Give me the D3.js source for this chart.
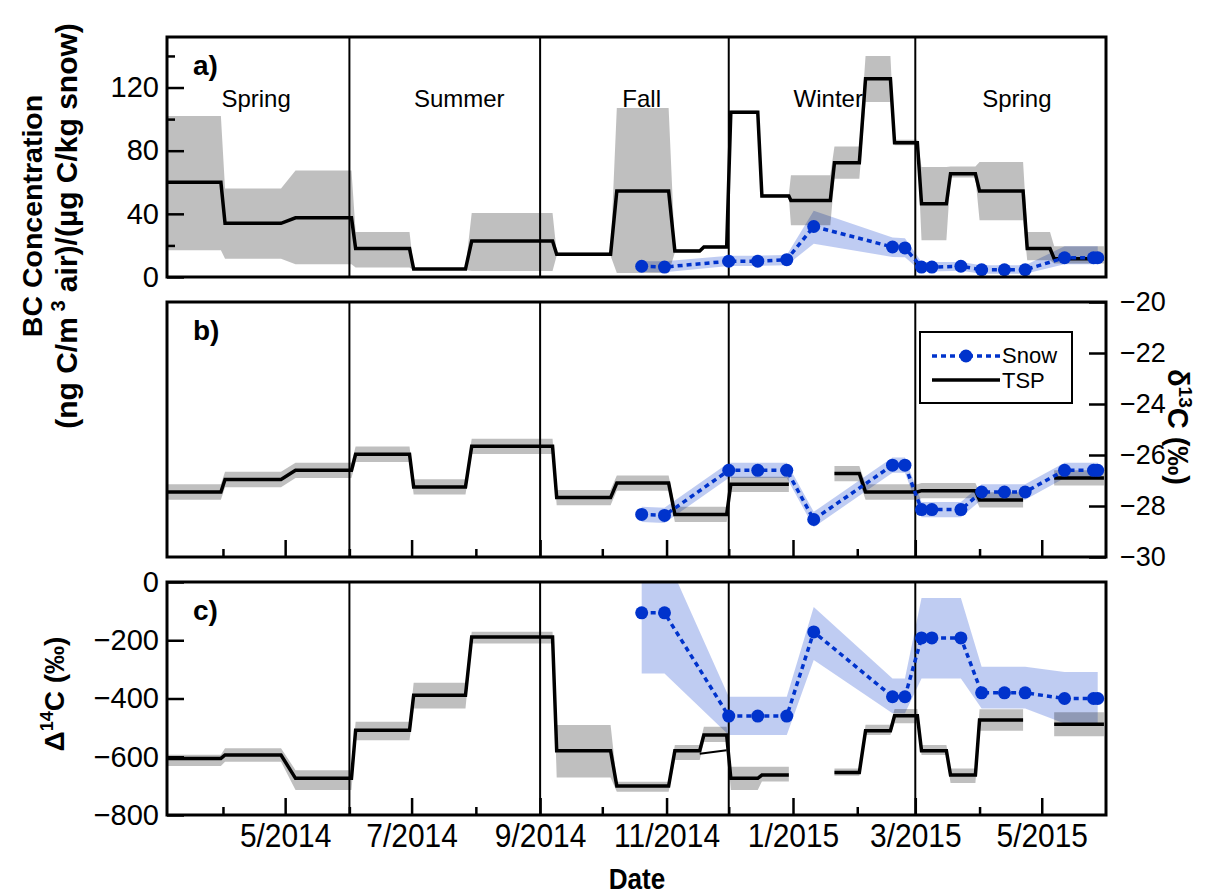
<!DOCTYPE html>
<html>
<head>
<meta charset="utf-8">
<script src="https://cdn.jsdelivr.net/npm/d3@7"></script>
<style>
  body { margin: 0; background: #fff; }
  svg text { font-family: "Liberation Sans", Arial, sans-serif; fill: #000; }
</style>
</head>
<body>
<div id="chart"></div>
<script>
// x range and season markers
const xDomain = ["2014-03-05", "2015-06-01"];
const seasonBounds = ["2014-06-01", "2014-09-01", "2014-12-01", "2015-03-01"];
const seasonNames = ["Spring", "Summer", "Fall", "Winter", "Spring"];
const seasonLabelDates = ["2014-04-17", "2014-07-24", "2014-10-20", "2015-01-18", "2015-04-19"];
const majorTicks = ["2014-05-01", "2014-07-01", "2014-09-01", "2014-11-01", "2015-01-01", "2015-03-01", "2015-05-01"];
const minorTicks = ["2014-04-01", "2014-06-01", "2014-08-01", "2014-10-01", "2014-12-01", "2015-02-01", "2015-04-01"];

// TSP filter sampling intervals
const tspStart = ["2014-03-05", "2014-04-02", "2014-05-06", "2014-06-04", "2014-07-02", "2014-07-30", "2014-09-09",
  "2014-10-08", "2014-11-05", "2014-11-19", "2014-12-02", "2014-12-17", "2014-12-31", "2015-01-21", "2015-02-05",
  "2015-02-19", "2015-03-04", "2015-03-18", "2015-04-01", "2015-04-24", "2015-05-07"];
const tspEnd = ["2014-03-31", "2014-04-29", "2014-06-02", "2014-06-30", "2014-07-27", "2014-09-07", "2014-10-05",
  "2014-11-02", "2014-11-17", "2014-11-30", "2014-12-15", "2014-12-30", "2015-01-19", "2015-02-02", "2015-02-17",
  "2015-03-02", "2015-03-16", "2015-03-30", "2015-04-22", "2015-05-05", "2015-05-31"];

// a) BC concentration
const tspBC = [60, 34, 37.5, 18, 5, 22.8, 14.4, 54.4, 16.5, 19, 104.4, 51.3, 48.5, 72.4, 125.6, 85, 46.4, 65.4, 54.4, 18, 11.6];
const tspBCLo = [17, 11.6, 8, 6, 4.5, 3.8, 13.5, 2.5, 15.5, 18, 103.5, 50.5, 32.7, 62.3, 110.8, 83.5, 23.2, 63, 35.9, 10.6, 8.5];
const tspBCHi = [102, 56, 67.5, 28.5, 5.5, 40.5, 15.5, 107, 17.5, 20, 105.5, 52.5, 64.4, 82.7, 140, 87, 69.6, 70, 72.8, 28.5, 19.4];

// b) d13C
const tspD13 = [-27.45, -26.96, -26.6, -25.97, -27.25, -25.66, -27.67, -27.1, -28.33, -28.33, -27.15, -27.15, null,
  -26.73, -27.45, -27.45, -27.4, -27.4, -27.76, null, -26.9];
const tspD13Err = [0.3, 0.3, 0.3, 0.3, 0.3, 0.3, 0.3, 0.3, 0.3, 0.3, 0.3, 0.3, null, 0.3, 0.3, 0.3, 0.3, 0.3, 0.3, null, 0.3];

// c) D14C
const tspD14 = [-605.7, -594, -674, -508.6, -388.5, -188.6, -579.5, -700.5, -579.5, -525.7, -674, -663, null,
  -653.7, -511, -459.5, -579.5, -663, -474, null, -488];
const tspD14Lo = [-632, -617, -714, -543, -434, -211, -671, -720, -611, -549, -714, -685, null, -665, -525, -485, -594, -690, -511, null, -530];
const tspD14Hi = [-593, -571, -646, -480, -346, -171, -491, -686, -560, -497, -634, -634, null, -640, -490, -436, -560, -640, -437, null, -447];
const tspAltDates = ["2014-11-17", "2014-11-30"];
const tspAltD14 = [-590, -578];

// snow samples
const snowDates = ["2014-10-20", "2014-10-31", "2014-12-01", "2014-12-15", "2014-12-29", "2015-01-11", "2015-02-18",
  "2015-02-24", "2015-03-04", "2015-03-09", "2015-03-23", "2015-04-02", "2015-04-13", "2015-04-23", "2015-05-12",
  "2015-05-26", "2015-05-28"];
const snowBC = [6.8, 6.3, 10, 10, 11, 32, 19, 18.4, 6.3, 6.3, 6.8, 4.6, 4.6, 4.6, 12.2, 12.2, 12.2];
const snowBCLo = [3.2, 3, 7, 7, 7.5, 21, 12.7, 12.5, 3.5, 3.5, 4, 2, 2, 2, 8, 8, 8];
const snowBCHi = [10, 10, 13.5, 13.5, 14, 42, 25, 24.5, 9.5, 9.5, 9.5, 7.5, 7.5, 7.5, 19.4, 19.4, 19.4];
const snowD13 = [-28.33, -28.37, -26.6, -26.6, -26.6, -28.53, -26.4, -26.4, -28.14, -28.14, -28.14, -27.45, -27.45, -27.45, -26.6, -26.6, -26.6];
const snowD13Err = [0.3, 0.3, 0.3, 0.3, 0.3, 0.3, 0.3, 0.3, 0.3, 0.3, 0.3, 0.3, 0.3, 0.3, 0.3, 0.3, 0.3];
const snowD14 = [-106, -106, -460.5, -460.5, -460.5, -171.4, -394, -394, -192, -192, -192, -380.5, -380.5, -380.5, -400, -400, -400];
const snowD14Lo = [-314, -314, -525.7, -525.7, -525.7, -268, -451, -451, -331, -331, -331, -434, -434, -434, -485.6, -485.6, -485.6];
const snowD14Hi = [100, 100, -394, -394, -394, -85.7, -331, -331, -55, -55, -55, -291, -291, -291, -308.6, -308.6, -308.6];

const parse = d3.timeParse("%Y-%m-%d");
const blue = "#0033cc";
const left = 167, right = 1106;

const svg = d3.select("#chart").append("svg")
  .attr("width", 1213)
  .attr("height", 894);

const x = d3.scaleTime().domain(xDomain.map(parse)).range([left, right]);
const yA = d3.scaleLinear().domain([0, 152]).range([277, 37]);
const yB = d3.scaleLinear().domain([-30, -20]).range([557, 302]);
const yC = d3.scaleLinear().domain([-800, 0]).range([815, 582]);

// step rows: each interval gives a start and an end point, null breaks the line
function tspRows(v, lo, hi) {
  const rows = [];
  tspStart.forEach((s, i) => {
    if (v[i] === null) { rows.push(null); return; }
    [s, tspEnd[i]].forEach(d => rows.push({ date: parse(d), v: v[i], lo: lo[i], hi: hi[i] }));
  });
  return rows;
}

function snowRows(v, lo, hi) {
  return snowDates.map((d, i) => ({ date: parse(d), v: v[i], lo: lo[i], hi: hi[i] }));
}

const panels = [
  { id: "a", y: yA, letter: "a)",
    tsp: tspRows(tspBC, tspBCLo, tspBCHi),
    snow: snowRows(snowBC, snowBCLo, snowBCHi) },
  { id: "b", y: yB, letter: "b)",
    tsp: tspRows(tspD13, tspD13.map((v, i) => v === null ? null : v - tspD13Err[i]), tspD13.map((v, i) => v === null ? null : v + tspD13Err[i])),
    snow: snowRows(snowD13, snowD13.map((v, i) => v - snowD13Err[i]), snowD13.map((v, i) => v + snowD13Err[i])) },
  { id: "c", y: yC, letter: "c)",
    tsp: tspRows(tspD14, tspD14Lo, tspD14Hi),
    snow: snowRows(snowD14, snowD14Lo, snowD14Hi) }
];

panels.forEach(p => {
  const y = p.y;
  const [bottom, top] = y.range();

  svg.append("clipPath").attr("id", "clip-" + p.id)
    .append("rect")
    .attr("x", left).attr("y", top)
    .attr("width", right - left).attr("height", bottom - top);

  const plot = svg.append("g").attr("clip-path", "url(#clip-" + p.id + ")");

  const area = d3.area().defined(d => d)
    .x(d => x(d.date)).y0(d => y(d.lo)).y1(d => y(d.hi));
  const line = d3.line().defined(d => d)
    .x(d => x(d.date)).y(d => y(d.v));

  plot.append("path").datum(p.snow)
    .attr("d", area)
    .attr("fill", "rgba(0,51,204,0.25)");
  plot.append("path").datum(p.tsp)
    .attr("d", area)
    .attr("fill", "rgba(0,0,0,0.25)");

  plot.selectAll(".season")
    .data(seasonBounds)
    .enter()
    .append("line")
    .attr("x1", d => x(parse(d))).attr("x2", d => x(parse(d)))
    .attr("y1", top).attr("y2", bottom)
    .attr("stroke", "#000").attr("stroke-width", 2);

  plot.append("path").datum(p.tsp)
    .attr("d", line)
    .attr("fill", "none").attr("stroke", "#000").attr("stroke-width", 3.5);

  if (p.id === "c") {
    plot.append("path")
      .datum(tspAltDates.map((d, i) => ({ date: parse(d), v: tspAltD14[i] })))
      .attr("d", line)
      .attr("fill", "none").attr("stroke", "#000").attr("stroke-width", 2);
  }

  plot.append("path").datum(p.snow)
    .attr("d", line)
    .attr("fill", "none").attr("stroke", blue).attr("stroke-width", 3.5)
    .attr("stroke-dasharray", "5,4");
  plot.selectAll(".dot")
    .data(p.snow)
    .enter()
    .append("circle")
    .attr("cx", d => x(d.date)).attr("cy", d => y(d.v))
    .attr("r", 6.5).attr("fill", blue);

  // x ticks (inward) on b and c
  if (p.id !== "a") {
    const minor = svg.append("g").attr("transform", "translate(0," + bottom + ")")
      .call(d3.axisBottom(x).tickValues(minorTicks.map(parse)).tickSize(-8).tickFormat(""));
    const major = svg.append("g").attr("transform", "translate(0," + bottom + ")")
      .call(d3.axisBottom(x).tickValues(majorTicks.map(parse)).tickSize(-17).tickPadding(8)
        .tickFormat(p.id === "c" ? d3.timeFormat("%-m/%Y") : ""));
    [minor, major].forEach(ax => {
      ax.select(".domain").remove();
      ax.selectAll(".tick line").attr("stroke-width", 2.5);
    });
    // narrow look of the original date labels
    major.selectAll("text")
      .style("font-size", "34px")
      .attr("transform", "scale(0.88,1)");
  }

  svg.append("rect")
    .attr("x", left).attr("y", top)
    .attr("width", right - left).attr("height", bottom - top)
    .attr("fill", "none").attr("stroke", "#000").attr("stroke-width", 3);

  svg.append("text")
    .attr("x", 193).attr("y", top + 38)
    .style("font-size", "28px").style("font-weight", "bold")
    .text(p.letter);
});

// y axes
const axA = svg.append("g").attr("transform", "translate(" + left + ",0)")
  .call(d3.axisLeft(yA).tickValues([0, 40, 80, 120]).tickSize(-17).tickPadding(8));
const axA2 = svg.append("g").attr("transform", "translate(" + left + ",0)")
  .call(d3.axisLeft(yA).tickValues([20, 60, 100, 140]).tickSize(-8).tickFormat(""));
const axB = svg.append("g").attr("transform", "translate(" + right + ",0)")
  .call(d3.axisRight(yB).tickValues([-30, -28, -26, -24, -22, -20]).tickSize(-17).tickPadding(14));
const axC = svg.append("g").attr("transform", "translate(" + left + ",0)")
  .call(d3.axisLeft(yC).tickValues([-800, -600, -400, -200, 0]).tickSize(-17).tickPadding(8));
[axA, axA2, axB, axC].forEach(ax => {
  ax.select(".domain").remove();
  ax.selectAll(".tick line").attr("stroke-width", 2.5);
});
[axA, axC].forEach(ax => ax.selectAll("text").style("font-size", "29px"));
axB.selectAll("text").style("font-size", "27px");

// season labels
svg.selectAll(".seasonLabel")
  .data(seasonNames)
  .enter()
  .append("text")
  .attr("x", (d, i) => x(parse(seasonLabelDates[i])))
  .attr("y", 107)
  .attr("text-anchor", "middle")
  .style("font-size", "24px")
  .text(d => d);

// legend
const lg = svg.append("g");
lg.append("rect")
  .attr("x", 920).attr("y", 332).attr("width", 152).attr("height", 71)
  .attr("fill", "#fff").attr("stroke", "#000").attr("stroke-width", 2);
lg.append("line")
  .attr("x1", 932).attr("x2", 1000).attr("y1", 356).attr("y2", 356)
  .attr("stroke", blue).attr("stroke-width", 3.5).attr("stroke-dasharray", "5,4");
lg.append("circle").attr("cx", 966).attr("cy", 356).attr("r", 6.5).attr("fill", blue);
lg.append("line")
  .attr("x1", 932).attr("x2", 1000).attr("y1", 380).attr("y2", 380)
  .attr("stroke", "#000").attr("stroke-width", 3.5);
lg.append("text").attr("x", 1002).attr("y", 363).style("font-size", "22px").text("Snow");
lg.append("text").attr("x", 1002).attr("y", 388).style("font-size", "22px").text("TSP");

// axis titles
svg.append("text")
  .attr("transform", "translate(42,216) rotate(-90)")
  .attr("text-anchor", "middle")
  .style("font-size", "28.5px").style("font-weight", "bold")
  .text("BC Concentration");
const t2 = svg.append("text")
  .attr("transform", "translate(77,226) rotate(-90)")
  .attr("text-anchor", "middle")
  .style("font-size", "30px").style("font-weight", "bold");
t2.append("tspan").text("(ng C/m");
t2.append("tspan").attr("dy", "-0.6em").style("font-size", "20px").text(" 3");
t2.append("tspan").attr("dy", "0.4em").text("  air)/(µg C/kg snow)");

const t3 = svg.append("text")
  .attr("transform", "translate(1168,427) rotate(90)")
  .attr("text-anchor", "middle")
  .style("font-size", "29px").style("font-weight", "bold");
t3.append("tspan").text("δ");
t3.append("tspan").attr("dy", "-0.6em").style("font-size", "19px").text("13");
t3.append("tspan").attr("dy", "0.39em").text("C (‰)");

const t4 = svg.append("text")
  .attr("transform", "translate(64,694) rotate(-90)")
  .attr("text-anchor", "middle")
  .style("font-size", "28px").style("font-weight", "bold");
t4.append("tspan").text("Δ");
t4.append("tspan").attr("dy", "-0.6em").style("font-size", "18px").text("14");
t4.append("tspan").attr("dy", "0.39em").text("C (‰)");

svg.append("text")
  .attr("x", 637).attr("y", 889)
  .attr("text-anchor", "middle")
  .style("font-size", "29px").style("font-weight", "bold")
  .attr("transform", "translate(637,0) scale(0.9,1) translate(-637,0)")
  .text("Date");
</script>
</body>
</html>
